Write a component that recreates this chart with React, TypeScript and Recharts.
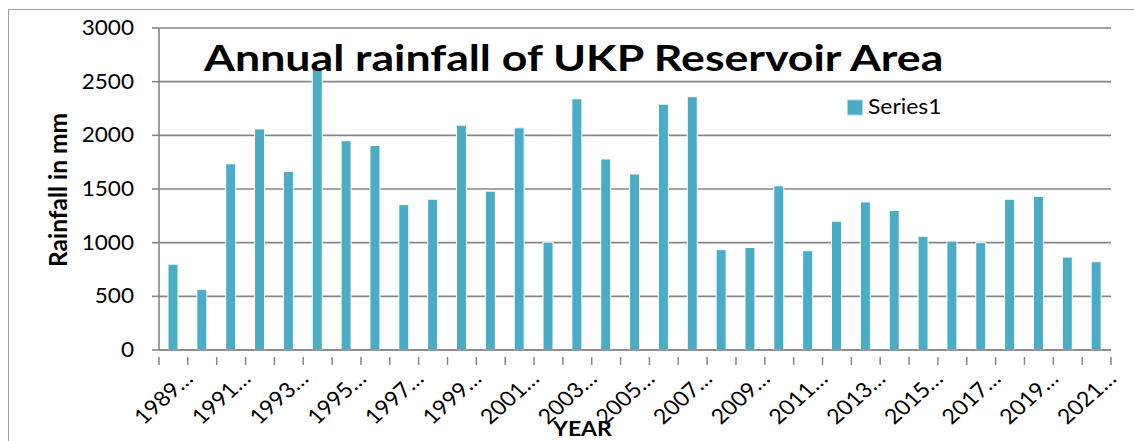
import { BarChart, Bar, XAxis, YAxis, CartesianGrid } from "recharts";

const years = [
  "1989", "1990", "1991", "1992", "1993", "1994", "1995", "1996", "1997", "1998", "1999",
  "2000", "2001", "2002", "2003", "2004", "2005", "2006", "2007", "2008", "2009", "2010",
  "2011", "2012", "2013", "2014", "2015", "2016", "2017", "2018", "2019", "2020", "2021",
];
const rainfall = [
  800, 565, 1735, 2060, 1665, 2630, 1950, 1905, 1355, 1405, 2095,
  1480, 2070, 1005, 2340, 1780, 1640, 2290, 2360, 935, 955, 1530,
  925, 1200, 1380, 1300, 1060, 1015, 1000, 1405, 1432, 866, 823,
];
const yTicks = [0, 500, 1000, 1500, 2000, 2500, 3000];

const data = years.map((y, i) => ({ year: y, Series1: rainfall[i] }));

const FONT = "Lato, 'Open Sans', sans-serif";
const W = 1134;
const H = 441;
const LEFT = 159;
const RIGHT = 23;
const BAND = (W - LEFT - RIGHT) / years.length;
const AXIS_GRAY = "#868686";
const BAR_COLOR = "#4bacc6";

function YearTick(props: any) {
  const { x, y, payload, index } = props;
  const i = payload?.index ?? index;
  const last = i === years.length - 1;
  const tx = x + 21;
  const ty = y + 22;
  return (
    <g>
      <line x1={x - BAND / 2} x2={x - BAND / 2} y1={y - 1} y2={y + 7} stroke={AXIS_GRAY} strokeWidth={1.5} />
      {last && (
        <line x1={x + BAND / 2} x2={x + BAND / 2} y1={y - 1} y2={y + 7} stroke={AXIS_GRAY} strokeWidth={1.5} />
      )}
      {i % 2 === 0 && (
        <text
          transform={`translate(${tx} ${ty}) scale(1.11 1) rotate(-45)`}
          textAnchor="end"
          fontSize={21}
          fontFamily={FONT}
          fill="#000"
        >
          {payload.value}…
        </text>
      )}
    </g>
  );
}

function RainTick(props: any) {
  const { x, y, payload } = props;
  return (
    <text
      transform={`translate(${x} ${y + 7}) scale(1.1 1)`}
      textAnchor="end"
      fontSize={20.5}
      fontFamily={FONT}
      fill="#000"
    >
      {payload.value}
    </text>
  );
}

export default function App() {
  return (
    <div style={{ position: "relative", width: W, height: H, overflow: "hidden", fontFamily: FONT }}>
      <style>{`body{margin:0}`}</style>
      <div
        style={{
          position: "absolute",
          left: 8,
          top: 9,
          width: W + 20,
          height: H + 20,
          border: "1.5px solid #a0a0a0",
          boxSizing: "border-box",
        }}
      />
      <BarChart
        width={W}
        height={H}
        data={data}
        margin={{ top: 28, right: RIGHT, bottom: 0, left: 0 }}
        barSize={10}
      >
        <CartesianGrid vertical={false} stroke={AXIS_GRAY} strokeWidth={1.6} />
        <XAxis
          dataKey="year"
          interval={0}
          height={91}
          tickLine={false}
          axisLine={{ stroke: AXIS_GRAY, strokeWidth: 1.6 }}
          tick={<YearTick />}
        />
        <YAxis
          width={LEFT}
          domain={[0, 3000]}
          ticks={yTicks}
          interval={0}
          tickSize={7}
          tickMargin={18}
          axisLine={{ stroke: AXIS_GRAY, strokeWidth: 1.6 }}
          tickLine={{ stroke: AXIS_GRAY, strokeWidth: 1.6 }}
          tick={<RainTick />}
        />
        <Bar dataKey="Series1" fill={BAR_COLOR} stroke="#ffffff" strokeWidth={1} isAnimationActive={false} />
      </BarChart>
      <svg
        width={W}
        height={H}
        style={{ position: "absolute", left: 0, top: 0, pointerEvents: "none" }}
        fontFamily={FONT}
      >
        <text transform="translate(204 71) scale(1.24 1)" fontSize={36} fontWeight={700} fill="#000">
          Annual rainfall of UKP Reservoir Area
        </text>
        <rect x={847.5} y={100} width={15} height={15} fill={BAR_COLOR} stroke="#a8d6e3" strokeWidth={1} />
        <text transform="translate(868 114) scale(1.09 1)" fontSize={21} fill="#000">
          Series1
        </text>
        <text
          transform="translate(67 190) rotate(-90)"
          textAnchor="middle"
          fontSize={24.5}
          fontWeight={700}
          fill="#000"
        >
          Rainfall in mm
        </text>
        <text transform="translate(553 436) scale(1.15 1)" fontSize={20} fontWeight={700} fill="#000">
          YEAR
        </text>
      </svg>
    </div>
  );
}
